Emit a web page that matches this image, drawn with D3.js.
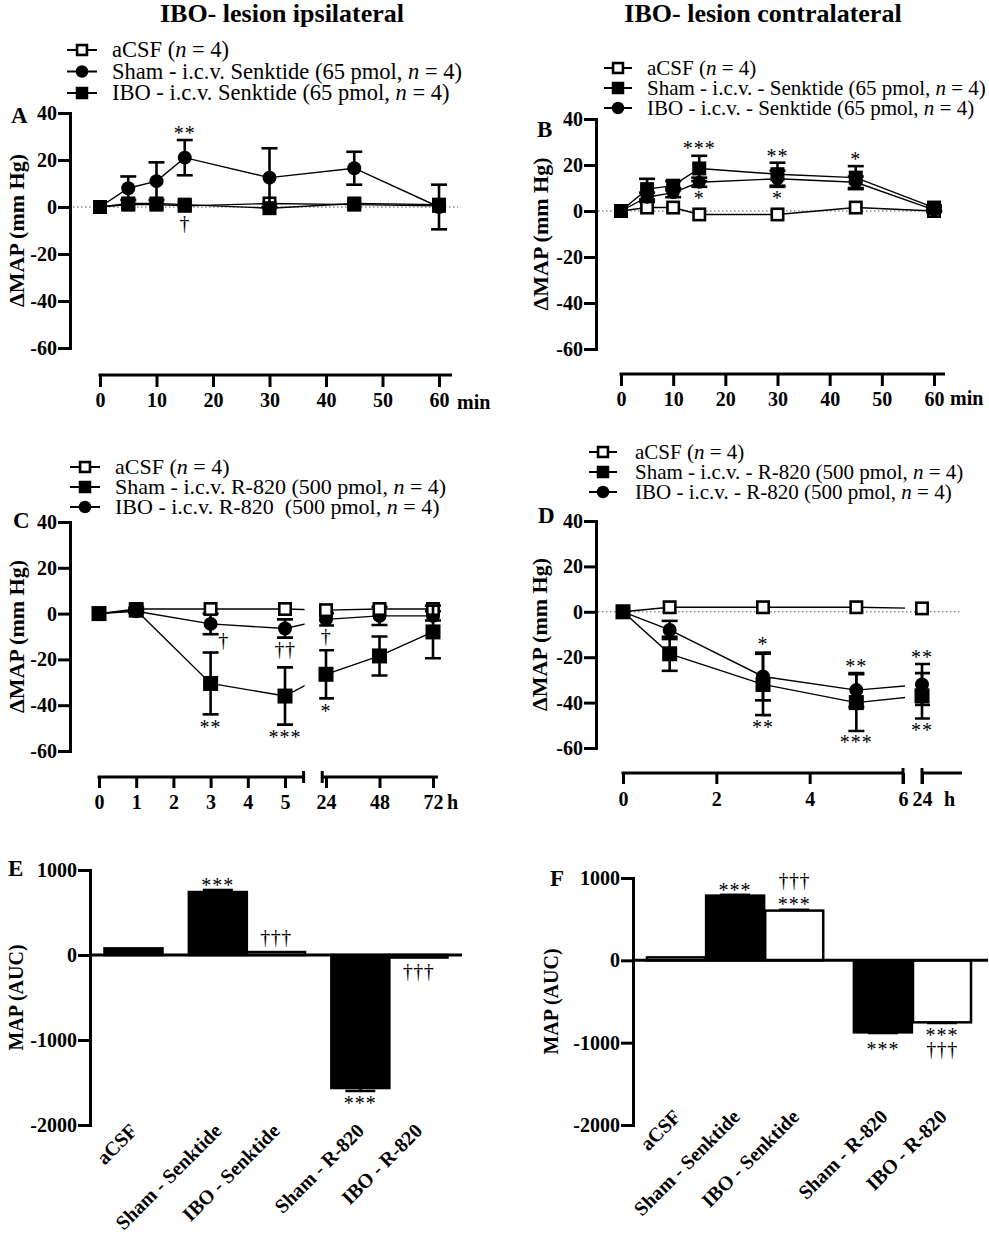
<!DOCTYPE html>
<html>
<head>
<meta charset="utf-8">
<script src="https://cdn.jsdelivr.net/npm/d3@7"></script>
<style>
html,body{margin:0;padding:0;background:#fff;}
svg{display:block;}
text{white-space:pre;}
</style>
</head>
<body>
<svg id="chart" width="989" height="1242" xmlns="http://www.w3.org/2000/svg"></svg>
<script>
// ================= DATA =================
const titles = ["IBO- lesion ipsilateral", "IBO- lesion contralateral"];
const panelLetters = ["A", "B", "C", "D", "E", "F"];
const yTicksMAP = [-60, -40, -20, 0, 20, 40];
const yTicksAUC = [-2000, -1000, 0, 1000];
const yLabelMAP = "ΔMAP (mm Hg)";
const yLabelAUC = "MAP (AUC)";

// Panel A (min)
const timesA = [0, 5, 10, 15, 30, 45, 60];
const xTicksA = [0, 10, 20, 30, 40, 50, 60];
const legendA = ["aCSF (n = 4)", "Sham - i.c.v. Senktide (65 pmol, n = 4)", "IBO - i.c.v. Senktide (65 pmol, n = 4)"];
const A_aCSF = [0, 1, 1, 0.5, 1.5, 1, 0.5];
const A_aCSF_err = [0, 0, 0, 0, 0, 0, 0];
const A_sham = [0, 8, 11, 21, 12.5, 16.5, 0];
const A_sham_err = [0, 5, 8, 7.5, 12.5, 7, 9.5];
const A_ibo = [0, 1.5, 1.5, 1, -0.5, 1.5, 1];
const A_ibo_err = [0, 0, 0, 0, 0, 0, 0];
const A_notes = [[15, 32.3, "**"], [15, -7.7, "†"]];

// Panel B (min)
const timesB = [0, 5, 10, 15, 30, 45, 60];
const xTicksB = [0, 10, 20, 30, 40, 50, 60];
const legendB = ["aCSF (n = 4)", "Sham - i.c.v. - Senktide (65 pmol, n = 4)", "IBO - i.c.v. - Senktide (65 pmol, n = 4)"];
const B_aCSF = [0, 1.5, 1.5, -1.5, -1.5, 1.5, 0];
const B_aCSF_err = [0, 0, 0, 0, 0, 0, 0];
const B_sham = [0, 9.5, 11, 18.5, 16, 14.5, 1.5];
const B_sham_err = [0, 4.5, 2, 5.5, 5, 5, 1];
const B_ibo = [0, 6, 8, 12.5, 14, 12.5, 0.5];
const B_ibo_err = [0, 2, 2, 2, 3.5, 2.5, 1];
const B_notes = [[15, 28.3, "***"], [30, 24.8, "**"], [45, 23.5, "*"], [15, 6.5, "*"], [30, 6.5, "*"]];

// Panel C (h)
const timesC = [0, 1, 3, 5, 24, 48, 72];
const xTicksC1 = [0, 1, 2, 3, 4, 5];
const xTicksC2 = [24, 48, 72];
const legendC = ["aCSF (n = 4)", "Sham - i.c.v. R-820 (500 pmol, n = 4)", "IBO - i.c.v. R-820  (500 pmol, n = 4)"];
const C_aCSF = [0, 2, 2, 2, 1.5, 2, 2];
const C_aCSF_err = [0, 0, 0, 0, 0, 0, 0];
const C_sham = [0, 1.5, -30.5, -36, -26.5, -18.5, -8];
const C_sham_err = [0, 1, 13.5, 12.5, 10.5, 8.5, 11.5];
const C_ibo = [0, 1, -4.5, -6.5, -2.5, -1, -1];
const C_ibo_err = [0, 0.5, 4.5, 4, 2.7, 4, 2];
const C_notes = [[3.35, -12.2, "†"], [5, -16.2, "††"], [24, -10.5, "†"], [3, -48.5, "**"], [5, -53, "***"], [24, -41.5, "*"]];

// Panel D (h)
const timesD = [0, 1, 3, 5, 24];
const xTicksD1 = [0, 2, 4, 6];
const xTicksD2 = [24];
const legendD = ["aCSF (n = 4)", "Sham - i.c.v. - R-820 (500 pmol, n = 4)", "IBO - i.c.v. - R-820 (500 pmol, n = 4)"];
const D_aCSF = [0, 2, 2, 2, 1.5];
const D_aCSF_err = [0, 0, 0, 0, 0];
const D_sham = [0, -18.5, -32, -40, -37];
const D_sham_err = [0, 7.5, 13.5, 12.5, 10];
const D_ibo = [0, -8, -28.5, -34.5, -32];
const D_ibo_err = [0, 4, 10.5, 7.5, 9];
const D_notes = [[3, -13.3, "*"], [3, -49.5, "**"], [5, -22.7, "**"], [5, -56.5, "***"], [24, -18.7, "**"], [24, -50.8, "**"]];

// Panels E / F (AUC)
const aucCategories = ["aCSF", "Sham - Senktide", "IBO - Senktide", "Sham - R-820", "IBO - R-820"];
const E_auc = [78, 741, 35, -1565, -30];
const E_err = [0, 24, 0, 35, 0];
const E_fill = ["#000", "#000", "#fff", "#000", "#fff"];
const E_notes = [[1, 850, "***"], [2, 188, "†††"], [4, -208, "†††"], [3, -1717, "***"]];
const F_auc = [36, 786, 604, -875, -753];
const F_err = [0, 10, 10, 8, 8];
const F_fill = ["#fff", "#000", "#fff", "#000", "#fff"];
const F_notes = [[1, 882, "***"], [2, 962, "†††"], [2, 712, "***"], [3, -1053, "***"], [4, -878, "***"], [4, -1098, "†††"]];

// ================= LAYOUT (positions only) =================
const E_slots = [0, 1.45, 2.45, 3.9, 4.9];
const F_slots = [0, 1, 2, 3.5, 4.5];

// ================= DRAWING =================
const FONT = '"Liberation Serif","Times New Roman",Times,serif';
const svg = d3.select("#chart");
const defs = svg.append("defs");

function txt(x, y, s, size, o = {}) {
  const t = svg.append("text").attr("x", x).attr("y", y)
    .attr("font-family", FONT).attr("font-size", size).attr("fill", o.fill || "#000").text(s);
  if (o.bold) t.attr("font-weight", "bold");
  if (o.italic) t.attr("font-style", "italic");
  if (o.anchor) t.attr("text-anchor", o.anchor);
  if (o.transform) t.attr("transform", o.transform);
  if (o.ls) t.attr("letter-spacing", o.ls);
  return t;
}
function line(x1, y1, x2, y2, w, o = {}) {
  const l = svg.append("line").attr("x1", x1).attr("y1", y1).attr("x2", x2).attr("y2", y2)
    .attr("stroke", o.stroke || "#000").attr("stroke-width", w);
  if (o.dash) l.attr("stroke-dasharray", o.dash);
  if (o.cap) l.attr("stroke-linecap", o.cap);
  return l;
}
function marker(g, x, y, shape, s) {
  if (shape === "circle") {
    g.append("circle").attr("cx", x).attr("cy", y).attr("r", s / 2).attr("fill", "#000");
  } else if (shape === "square") {
    g.append("rect").attr("x", x - s / 2).attr("y", y - s / 2).attr("width", s).attr("height", s).attr("fill", "#000");
  } else {
    const sw = 2.6;
    g.append("rect").attr("x", x - s / 2 + sw / 2).attr("y", y - s / 2 + sw / 2)
      .attr("width", s - sw).attr("height", s - sw).attr("fill", "#fff").attr("stroke", "#000").attr("stroke-width", sw);
  }
}
function styleAxis(g, size) {
  g.attr("font-family", null).attr("font-size", null);
  g.select(".domain").attr("stroke-width", 3);
  g.selectAll(".tick line").attr("stroke-width", 3);
  g.selectAll(".tick text").attr("font-family", FONT).attr("font-size", size || 20)
    .attr("font-weight", "bold").attr("fill", "#000");
}
function yAxis(y, x0, ticks) {
  const g = svg.append("g").attr("transform", `translate(${x0},0)`)
    .call(d3.axisLeft(y).tickValues(ticks).tickFormat(d => String(d)).tickSize(12).tickSizeOuter(0).tickPadding(1));
  styleAxis(g);
  g.select(".domain").attr("stroke-linecap", "square");
}
function xAxisTicks(scale, ticks, yAx, tsize, pad) {
  const g = svg.append("g").attr("transform", `translate(0,${yAx})`)
    .call(d3.axisBottom(scale).tickValues(ticks).tickFormat(d => String(d)).tickSize(tsize).tickSizeOuter(0).tickPadding(pad));
  styleAxis(g);
  g.select(".domain").remove();
}
function legend(labels, shapes, mx, tx, ys, half, size) {
  labels.forEach((lab, i) => {
    const y = ys[i];
    line(mx - half, y, mx + half, y, 2);
    marker(svg, mx, y, shapes[i], 12.5);
    const parts = lab.split(/\bn(?= = )/);
    let cx = tx;
    parts.forEach((p, j) => {
      const t = txt(cx, y + 7, p, size);
      cx += t.node().getComputedTextLength();
      if (j < parts.length - 1) {
        const n = txt(cx, y + 7, "n", size, { italic: true });
        cx += n.node().getComputedTextLength();
      }
    });
  });
}
function series(xf, y, times, vals, errs, shape, size, clipId) {
  const g = svg.append("g");
  const pts = times.map((t, i) => ({ x: xf(t), y: y(vals[i]), hi: y(vals[i] + errs[i]), lo: y(vals[i] - errs[i]), e: errs[i] }));
  const lg = g.append("g");
  if (clipId) lg.attr("clip-path", `url(#${clipId})`);
  pts.forEach(p => {
    if (p.e > 0) {
      lg.append("line").attr("x1", p.x).attr("x2", p.x).attr("y1", p.hi).attr("y2", p.lo).attr("stroke", "#000").attr("stroke-width", 2.6);
      [p.hi, p.lo].forEach(yy => lg.append("line").attr("x1", p.x - 8).attr("x2", p.x + 8).attr("y1", yy).attr("y2", yy)
        .attr("stroke", "#000").attr("stroke-width", 2.6));
    }
  });
  lg.append("path").attr("d", d3.line().x(d => d.x).y(d => d.y)(pts)).attr("fill", "none").attr("stroke", "#000").attr("stroke-width", 1.4);
  pts.forEach(p => marker(g, p.x, p.y, shape, size));
}
function notes(list, xf, y, size) {
  list.forEach(([t, v, s]) => {
    const star = s.includes("*");
    const k = star ? 0.47 : 0.27;
    txt(xf(t), y(v) + k * size, s, size, { anchor: "middle", fill: "#000", ls: star ? 1 : 0.5 });
  });
}
function clip(id, rects) {
  const c = defs.append("clipPath").attr("id", id);
  rects.forEach(([x1, x2]) => c.append("rect").attr("x", x1).attr("y", 0).attr("width", x2 - x1).attr("height", 1242));
}

// ---------- Titles ----------
txt(282, 22, titles[0], 26, { bold: true, anchor: "middle" });
txt(763, 22, titles[1], 26, { bold: true, anchor: "middle" });

// ---------- Panel A ----------
{
  const y = d3.scaleLinear().domain([-60, 40]).range([348, 113]);
  const x = d3.scaleLinear().domain([0, 60]).range([100, 439]);
  legend(legendA, ["open", "circle", "square"], 82, 112, [50, 71.5, 93], 15, 22.5);
  txt(11, 123, panelLetters[0], 23, { bold: true });
  line(73, y(0), 458, y(0), 1, { stroke: "#555", dash: "1.5,2.5" });
  yAxis(y, 70, yTicksMAP);
  txt(0, 0, yLabelMAP, 22, { bold: true, anchor: "middle", transform: `translate(24,${(y(40) + y(-60)) / 2}) rotate(-90)` });
  xAxisTicks(x, xTicksA, 375, 12, 6);
  line(x(0) - 1.5, 375, x(60) + 13, 375, 3);
  txt(x(60) + 18, 409, "min", 20, { bold: true });
  series(x, y, timesA, A_aCSF, A_aCSF_err, "open", 14);
  series(x, y, timesA, A_sham, A_sham_err, "circle", 14);
  series(x, y, timesA, A_ibo, A_ibo_err, "square", 14);
  notes(A_notes, x, y, 20);
}

// ---------- Panel B ----------
{
  const y = d3.scaleLinear().domain([-60, 40]).range([349, 119]);
  const x = d3.scaleLinear().domain([0, 60]).range([621, 934]);
  legend(legendB, ["open", "square", "circle"], 618, 647, [68, 88, 108], 14, 21);
  txt(537, 137, panelLetters[1], 23, { bold: true });
  line(598, y(0), 943, y(0), 1, { stroke: "#555", dash: "1.5,2.5" });
  yAxis(y, 596, yTicksMAP);
  txt(0, 0, yLabelMAP, 22, { bold: true, anchor: "middle", transform: `translate(548,${(y(40) + y(-60)) / 2}) rotate(-90)` });
  xAxisTicks(x, xTicksB, 374, 12, 6);
  line(x(0) - 1.5, 374, x(60) + 11, 374, 3);
  txt(x(60) + 16, 405, "min", 20, { bold: true });
  series(x, y, timesB, B_aCSF, B_aCSF_err, "open", 14);
  series(x, y, timesB, B_ibo, B_ibo_err, "circle", 13);
  series(x, y, timesB, B_sham, B_sham_err, "square", 14);
  notes(B_notes, x, y, 20);
}

// ---------- Panel C ----------
{
  const y = d3.scaleLinear().domain([-60, 40]).range([751, 522]);
  const s1 = d3.scaleLinear().domain([0, 5]).range([99, 285]);
  const s2 = d3.scaleLinear().domain([24, 72]).range([326, 433]);
  const x = t => (t <= 12 ? s1(t) : s2(t));
  legend(legendC, ["open", "square", "circle"], 85, 115, [467, 487, 507], 15, 22);
  txt(13, 528, panelLetters[2], 23, { bold: true });
  yAxis(y, 70, yTicksMAP);
  txt(0, 0, yLabelMAP, 22, { bold: true, anchor: "middle", transform: `translate(24,${(y(40) + y(-60)) / 2}) rotate(-90)` });
  const ay = 777;
  xAxisTicks(s1, xTicksC1, ay, 11, 7);
  xAxisTicks(s2, xTicksC2, ay, 11, 7);
  const e1 = s1(5.5), b2 = s2(22.3);
  line(s1(0) - 1.5, ay, e1, ay, 3);
  line(e1, ay - 6, e1, ay + 6, 3);
  line(b2, ay, s2(72) + 5, ay, 3);
  line(b2, ay - 6, b2, ay + 6, 3);
  txt(s2(72) + 14, 809, "h", 20, { bold: true });
  clip("clipC", [[0, e1 + 1], [b2 - 3, 989]]);
  series(x, y, timesC, C_ibo, C_ibo_err, "circle", 14, "clipC");
  series(x, y, timesC, C_aCSF, C_aCSF_err, "open", 14, "clipC");
  series(x, y, timesC, C_sham, C_sham_err, "square", 15, "clipC");
  notes(C_notes, x, y, 20);
}

// ---------- Panel D ----------
{
  const y = d3.scaleLinear().domain([-60, 40]).range([748, 521]);
  const s1 = d3.scaleLinear().domain([0, 6]).range([623, 903]);
  const s2 = d3.scaleLinear().domain([24, 48]).range([922, 1002]);
  const x = t => (t <= 12 ? s1(t) : s2(t));
  legend(legendD, ["open", "square", "circle"], 603, 635, [452, 472, 492], 14, 21);
  txt(538, 523, panelLetters[3], 23, { bold: true });
  line(598, y(0), 962, y(0), 1, { stroke: "#555", dash: "1.5,2.5" });
  yAxis(y, 596, yTicksMAP);
  txt(0, 0, yLabelMAP, 22, { bold: true, anchor: "middle", transform: `translate(547,${(y(40) + y(-60)) / 2}) rotate(-90)` });
  const ay = 773;
  xAxisTicks(s1, xTicksD1, ay, 11, 8);
  xAxisTicks(s2, xTicksD2, ay, 11, 8);
  const e1 = s1(6), b2 = s2(24);
  line(s1(0) - 1.5, ay, e1, ay, 3);
  line(e1, ay - 5, e1, ay + 11, 3);
  line(b2, ay, b2 + 40, ay, 3);
  line(b2, ay - 5, b2, ay + 11, 3);
  txt(944, 806, "h", 20, { bold: true });
  clip("clipD", [[0, e1 + 2], [e1 + 12, 989]]);
  series(x, y, timesD, D_aCSF, D_aCSF_err, "open", 14, "clipD");
  series(x, y, timesD, D_sham, D_sham_err, "square", 15, "clipD");
  series(x, y, timesD, D_ibo, D_ibo_err, "circle", 14, "clipD");
  notes(D_notes, x, y, 20);
}

// ---------- Bar panels ----------
function barPanel(cfg) {
  const { y, axisX, slots, xr, bw, vals, errs, fills, nts, letter, letterPos, ylabX, lineEnd, labDx, labY } = cfg;
  const x = d3.scaleLinear().domain([slots[0], slots[slots.length - 1]]).range(xr);
  txt(letterPos[0], letterPos[1], letter, 23, { bold: true });
  yAxis(y, axisX, yTicksAUC);
  txt(0, 0, yLabelAUC, 20, { bold: true, anchor: "middle", transform: `translate(${ylabX},${(y(1000) + y(-2000)) / 2}) rotate(-90)` });
  vals.forEach((v, i) => {
    const cx = x(slots[i]);
    const top = y(Math.max(0, v)), bot = y(Math.min(0, v));
    svg.append("rect").attr("x", cx - bw / 2).attr("y", top).attr("width", bw).attr("height", Math.max(0.5, bot - top))
      .attr("fill", fills[i]).attr("stroke", "#000").attr("stroke-width", 2.5);
    if (errs[i] > 0) {
      const ye = y(v + Math.sign(v) * errs[i]);
      line(cx, y(v), cx, ye, 2.5);
      line(cx - 15, ye, cx + 15, ye, 2.5);
    }
    txt(0, 0, aucCategories[i], 20, { bold: true, anchor: "end", transform: `translate(${cx + labDx},${labY}) rotate(-45)` });
  });
  line(axisX, y(0), lineEnd, y(0), 3);
  notes(nts.map(([i, v, s]) => [slots[i], v, s]), x, y, 20);
}
barPanel({
  y: d3.scaleLinear().domain([-2000, 1000]).range([1125, 870]),
  axisX: 90, slots: E_slots, xr: [133.5, 418.5], bw: 58, vals: E_auc, errs: E_err, fills: E_fill,
  nts: E_notes, letter: panelLetters[4], letterPos: [8, 876], ylabX: 23, lineEnd: 462, labDx: 5, labY: 1132
});
barPanel({
  y: d3.scaleLinear().domain([-2000, 1000]).range([1125, 878]),
  axisX: 633, slots: F_slots, xr: [676, 942], bw: 58, vals: F_auc, errs: F_err, fills: F_fill,
  nts: F_notes, letter: panelLetters[5], letterPos: [550, 886], ylabX: 558, lineEnd: 988, labDx: 6, labY: 1118
});
</script>
</body>
</html>
